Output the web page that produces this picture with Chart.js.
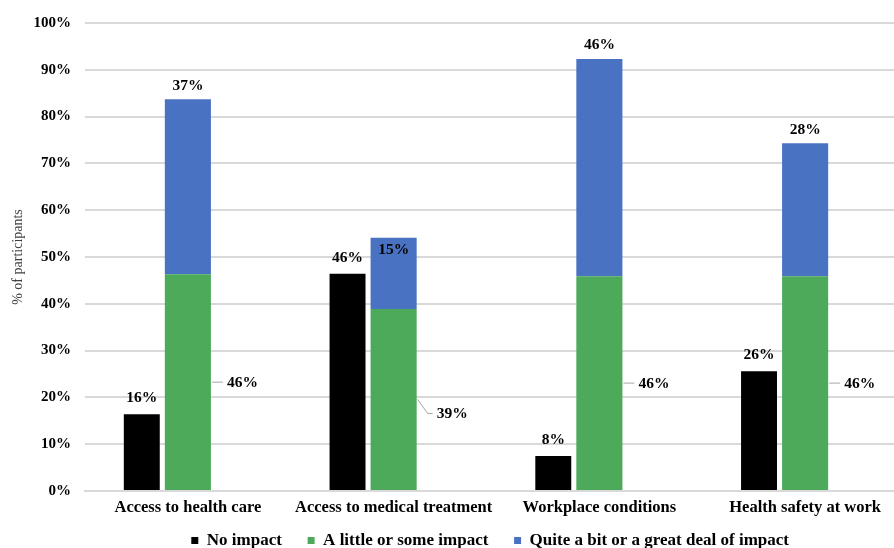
<!DOCTYPE html>
<html>
<head>
<meta charset="utf-8">
<script src="https://cdn.jsdelivr.net/npm/chart.js@4.4.1/dist/chart.umd.min.js"></script>
<style>
html, body { margin: 0; padding: 0; background: #fff; overflow: hidden; }
#wrap { width: 908px; height: 559px; }
</style>
</head>
<body>
<div id="wrap"><canvas id="chart" width="908" height="559"></canvas></div>
<script>
const categories = ['Access to health care', 'Access to medical treatment', 'Workplace conditions', 'Health safety at work'];
const noImpact = [16.4, 46.4, 7.5, 25.6];
const someImpact = [46.3, 38.9, 45.9, 45.9];
const greatImpact = [37.4, 15.2, 46.4, 28.4];
const seriesNames = ['No impact', 'A little or some impact', 'Quite a bit or a great deal of impact'];
const yTickValues = [0, 10, 20, 30, 40, 50, 60, 70, 80, 90, 100];

// label placement tweaks (not data)
const greenLabelShift = [0, 14, 0, 0];
const blueLabelInside = [false, true, false, false];

const FONT = "'Liberation Serif', 'Times New Roman', serif";
const pct = v => Math.round(v) + '%';

const barLabels = {
    id: 'barLabels',
    afterDatasetsDraw(chart) {
        const ctx = chart.ctx;
        ctx.save();
        ctx.font = `bold 15.5px ${FONT}`;
        ctx.fillStyle = '#000';

        chart.getDatasetMeta(0).data.forEach((bar, i) => {
            ctx.textAlign = 'center';
            ctx.textBaseline = 'bottom';
            ctx.fillText(pct(noImpact[i]), bar.x, bar.y - 8);
        });

        chart.getDatasetMeta(1).data.forEach((bar, i) => {
            const right = bar.x + bar.width / 2;
            const midY = (bar.y + bar.base) / 2;
            const dy = greenLabelShift[i];
            ctx.strokeStyle = '#a6a6a6';
            ctx.lineWidth = 1;
            ctx.beginPath();
            ctx.moveTo(right + 1, midY);
            if (dy) {
                ctx.lineTo(right + 11, midY + dy);
                ctx.lineTo(right + 16, midY + dy);
            } else {
                ctx.lineTo(right + 12, midY);
            }
            ctx.stroke();
            ctx.textAlign = 'left';
            ctx.textBaseline = 'middle';
            ctx.fillText(pct(someImpact[i]), right + (dy ? 20 : 16), midY + dy + 1);
        });

        chart.getDatasetMeta(2).data.forEach((bar, i) => {
            ctx.textAlign = 'center';
            if (blueLabelInside[i]) {
                ctx.textBaseline = 'middle';
                ctx.fillText(pct(greatImpact[i]), bar.x, bar.y + 12);
            } else {
                ctx.textBaseline = 'bottom';
                ctx.fillText(pct(greatImpact[i]), bar.x, bar.y - 6);
            }
        });
        ctx.restore();
    }
};

new Chart(document.getElementById('chart'), {
    type: 'bar',
    data: {
        labels: categories,
        datasets: [{
            label: seriesNames[0],
            data: noImpact,
            stack: 'a',
            backgroundColor: '#000000',
            barPercentage: 0.78,
            categoryPercentage: 0.672
        }, {
            label: seriesNames[1],
            data: someImpact,
            stack: 'b',
            backgroundColor: '#4eaa5b',
            barPercentage: 1.0,
            categoryPercentage: 0.672
        }, {
            label: seriesNames[2],
            data: greatImpact,
            stack: 'b',
            backgroundColor: '#4a72c2',
            barPercentage: 1.0,
            categoryPercentage: 0.672
        }, {
            label: '',
            data: [0, 0, 0, 0],
            stack: 'c',
            backgroundColor: 'rgba(0,0,0,0)',
            categoryPercentage: 0.672
        }]
    },
    options: {
        responsive: false,
        animation: false,
        layout: { padding: { left: 0, right: 0, top: 14, bottom: 0 } },
        plugins: {
            tooltip: { enabled: false },
            legend: {
                position: 'bottom',
                fullSize: false,
                labels: {
                    boxWidth: 7,
                    boxHeight: 7,
                    padding: 13,
                    color: '#000',
                    font: { family: FONT, size: 17, weight: 'bold' },
                    generateLabels: chart => {
                        const items = Chart.defaults.plugins.legend.labels.generateLabels(chart);
                        return items.filter(it => it.text !== '').map(it => {
                            it.text = it.text + '   ';
                            return it;
                        });
                    }
                }
            }
        },
        scales: {
            x: {
                grid: { display: false, drawTicks: false },
                border: { display: true, color: '#d9d9d9', width: 2 },
                ticks: {
                    color: '#000',
                    padding: 7,
                    maxRotation: 0,
                    font: { family: FONT, size: 16.5, weight: 'bold' }
                },
                afterFit: scale => { scale.height = 28; }
            },
            y: {
                stacked: true,
                min: 0,
                max: 100,
                afterBuildTicks: scale => { scale.ticks = yTickValues.map(v => ({ value: v })); },
                grid: { color: '#d9d9d9', lineWidth: 2, drawTicks: false, tickLength: 0 },
                border: { display: false },
                ticks: {
                    color: '#000',
                    padding: 14,
                    callback: v => v + '%',
                    font: { family: FONT, size: 15, weight: 'bold' }
                },
                title: {
                    display: true,
                    text: '% of participants',
                    color: '#404040',
                    padding: { top: 10, bottom: 0 },
                    font: { family: FONT, size: 14 }
                },
                afterFit: scale => { scale.width = 85; }
            }
        }
    },
    plugins: [barLabels]
});
</script>
</body>
</html>
